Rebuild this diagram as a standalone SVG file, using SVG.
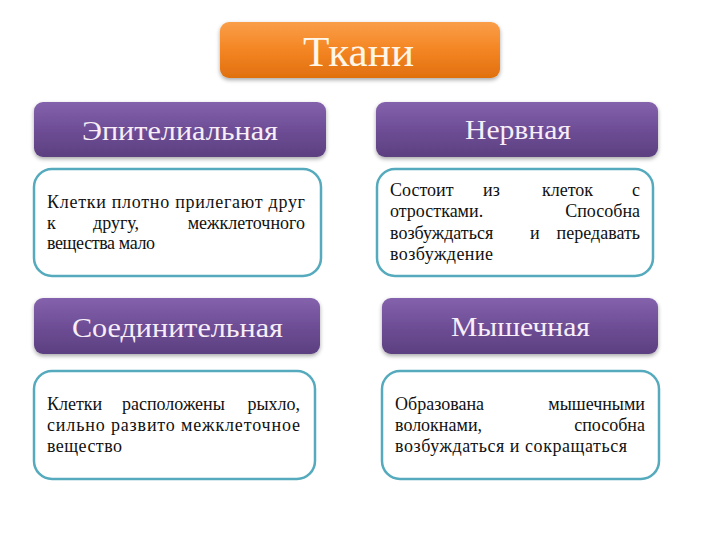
<svg xmlns="http://www.w3.org/2000/svg" width="720" height="540" viewBox="0 0 720 540">
<defs>
<linearGradient id="gOr" x1="0" y1="0" x2="0" y2="1">
<stop offset="0" stop-color="#FA9E48"/><stop offset="0.5" stop-color="#F48523"/><stop offset="1" stop-color="#E0700F"/>
</linearGradient>
<linearGradient id="gPu" x1="0" y1="0" x2="0" y2="1">
<stop offset="0" stop-color="#8462AC"/><stop offset="0.5" stop-color="#6E4E96"/><stop offset="1" stop-color="#5C3F80"/>
</linearGradient>
<filter id="sh" x="-10%" y="-20%" width="120%" height="150%">
<feGaussianBlur in="SourceAlpha" stdDeviation="2"/><feOffset dy="2" result="b"/>
<feComponentTransfer><feFuncA type="linear" slope="0.35"/></feComponentTransfer>
<feMerge><feMergeNode/><feMergeNode in="SourceGraphic"/></feMerge>
</filter>
</defs>
<style>
.hd{font-family:"Liberation Serif","DejaVu Serif",serif;font-size:28px;fill:#F7EEF7}
.ti{font-family:"Liberation Serif","DejaVu Serif",serif;font-size:42px;fill:#FFF6E8}
.bx{fill:#FFFFFF;stroke:#55ABBD;stroke-width:2.5}
.tx{font-family:"Liberation Serif","DejaVu Serif",serif;font-size:18px;fill:#111111}
.e{text-anchor:end}
</style>
<rect width="720" height="540" fill="#FFFFFF"/>
<g id="title"><rect x="220" y="22" width="280" height="56" rx="9" fill="url(#gOr)" filter="url(#sh)"/><text class="ti" x="303" y="66" textLength="111" lengthAdjust="spacingAndGlyphs">Ткани</text></g>
<g id="epithelial"><rect x="34" y="102" width="292" height="55" rx="9" fill="url(#gPu)" filter="url(#sh)"/><text class="hd" x="82" y="140" textLength="196" lengthAdjust="spacingAndGlyphs">Эпителиальная</text></g>
<g id="epithelial-desc"><rect class="bx" x="34" y="169" width="287" height="107" rx="18"/>
<text class="tx" y="208" x="47" textLength="258" lengthAdjust="spacing">Клетки плотно прилегают друг</text>
<text class="tx" y="228.5"><tspan x="47">к</tspan><tspan x="93">другу,</tspan><tspan x="305" class="e">межклеточного</tspan></text>
<text class="tx" y="249" x="47" textLength="108" lengthAdjust="spacing">вещества мало</text></g>
<g id="nervous"><rect x="376" y="102" width="282" height="55" rx="9" fill="url(#gPu)" filter="url(#sh)"/><text class="hd" x="465" y="139" textLength="106" lengthAdjust="spacingAndGlyphs">Нервная</text></g>
<g id="nervous-desc"><rect class="bx" x="377" y="169" width="276" height="107" rx="18"/>
<text class="tx" y="195.5"><tspan x="390">Состоит</tspan><tspan x="483">из</tspan><tspan x="542">клеток</tspan><tspan x="640" class="e">с</tspan></text>
<text class="tx" y="217"><tspan x="390">отростками.</tspan><tspan x="640" class="e">Способна</tspan></text>
<text class="tx" y="238.5"><tspan x="390">возбуждаться</tspan><tspan x="530">и</tspan><tspan x="640" class="e">передавать</tspan></text>
<text class="tx" y="260" x="390" textLength="103" lengthAdjust="spacing">возбуждение</text></g>
<g id="connective"><rect x="34" y="298" width="286" height="56" rx="9" fill="url(#gPu)" filter="url(#sh)"/><text class="hd" x="72" y="336.5" textLength="211" lengthAdjust="spacingAndGlyphs">Соединительная</text></g>
<g id="connective-desc"><rect class="bx" x="34" y="371" width="281" height="108" rx="18"/>
<text class="tx" y="410"><tspan x="47">Клетки</tspan><tspan x="122">расположены</tspan><tspan x="300" class="e">рыхло,</tspan></text>
<text class="tx" y="431" x="47" textLength="253" lengthAdjust="spacing">сильно развито межклеточное</text>
<text class="tx" y="452" x="47" textLength="75" lengthAdjust="spacing">вещество</text></g>
<g id="muscle"><rect x="382" y="298" width="276" height="56" rx="9" fill="url(#gPu)" filter="url(#sh)"/><text class="hd" x="451" y="336" textLength="139" lengthAdjust="spacingAndGlyphs">Мышечная</text></g>
<g id="muscle-desc"><rect class="bx" x="382" y="371" width="277" height="108" rx="18"/>
<text class="tx" y="410"><tspan x="395">Образована</tspan><tspan x="645" class="e">мышечными</tspan></text>
<text class="tx" y="431"><tspan x="395">волокнами,</tspan><tspan x="645" class="e">способна</tspan></text>
<text class="tx" y="451.5" x="395" textLength="232" lengthAdjust="spacing">возбуждаться и сокращаться</text></g>
<g id="connectors"/>
</svg>
